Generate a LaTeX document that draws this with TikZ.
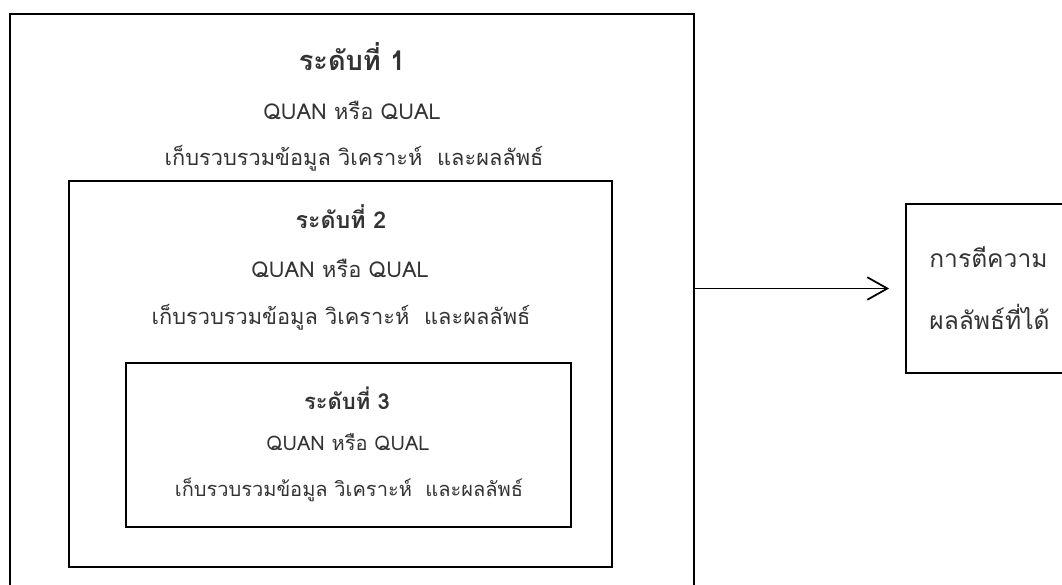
\documentclass[tikz,border=0pt]{standalone}
\usepackage{fontspec}
\newfontfamily\thaifont[Script=Thai]{Loma}
\usetikzlibrary{arrows.meta,positioning,fit}
\definecolor{TxtClr}{rgb}{0.2,0.2,0.2}

\tikzset{
  box/.style={draw,line width=1pt,rectangle,inner sep=0pt},
  headone/.style={font=\thaifont\bfseries\fontsize{15.5}{18}\selectfont,text=TxtClr},
  headtwo/.style={font=\thaifont\bfseries\fontsize{13.2}{16}\selectfont,text=TxtClr},
  headthree/.style={font=\thaifont\bfseries\fontsize{12.5}{15}\selectfont,text=TxtClr},
  bodytxt/.style={font=\thaifont\fontsize{12.4}{15}\selectfont,text=TxtClr},
  smalltxt/.style={font=\thaifont\fontsize{11.4}{14}\selectfont,text=TxtClr},
  resulttxt/.style={font=\thaifont\fontsize{14}{35}\selectfont,align=left,text=TxtClr},
  flow/.style={-{Straight Barb[length=0.4cm,width=0.45cm]},line width=1pt,shorten >=0.32cm}
}

\begin{document}
\begin{tikzpicture}[x=0.02cm,y=-0.02cm]
\useasboundingbox (0,0) rectangle (1062,585);
\clip (0,0) rectangle (1062,585);

% levels
\node[box,fit={(10,14) (694,620)}] (lvlone) {};
\node[box,fit={(69,181) (612,567)}] (lvltwo) {};
\node[box,fit={(126,363) (571,527)}] (lvlthree) {};

\node[headone] (headA) at (352,57) {ระดับที่ 1};
\node[bodytxt] (quanA) at (352,110) {QUAN หรือ QUAL};
\node[bodytxt] (taskA) at (354,158) {เก็บรวบรวมข้อมูล วิเคราะห์ \ และผลลัพธ์};

\node[headtwo] (headB) at (341,217) {ระดับที่ 2};
\node[bodytxt] (quanB) at (340,268) {QUAN หรือ QUAL};
\node[bodytxt] (taskB) at (341,317) {เก็บรวบรวมข้อมูล วิเคราะห์ \ และผลลัพธ์};

\node[headthree] (headC) at (347,398) {ระดับที่ 3};
\node[smalltxt] (quanC) at (348,442) {QUAN หรือ QUAL};
\node[smalltxt] (taskC) at (349,490) {เก็บรวบรวมข้อมูล วิเคราะห์ \ และผลลัพธ์};

% result
\node[box,fit={(906,204) (1090,373)}] (result) {};
\node[resulttxt,anchor=west,inner sep=0pt] (resultlbl) at (929,288) {การตีความ\\ผลลัพธ์ที่ได้};

\draw[flow] (lvlone.east |- result.west) -- (result.west);
\end{tikzpicture}
\end{document}
